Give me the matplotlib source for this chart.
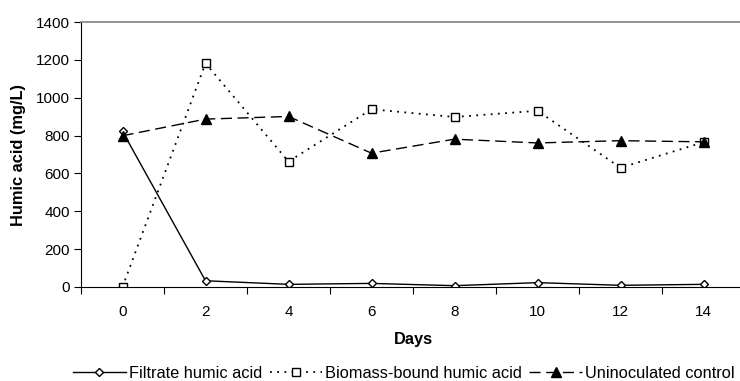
import matplotlib
matplotlib.use("Agg")
import matplotlib.pyplot as plt
import numpy as np

plt.rcParams['font.family'] = ['Liberation Sans', 'DejaVu Sans']

days = ["0", "2", "4", "6", "8", "10", "12", "14"]
filtrate = [822, 33, 14, 19, 7, 23, 9, 14]
biomass = [0, 1182, 663, 939, 898, 931, 630, 765]
control = [799, 887, 901, 707, 781, 761, 773, 767]
yticks = [0, 200, 400, 600, 800, 1000, 1200, 1400]

W, H = 740, 381
FS = 11
LFS = 11.8
fig = plt.figure(figsize=(W/100, H/100), dpi=100)
left, right, top, bottom = 81, 745, 22, 287
ax = fig.add_axes([left/W, 1 - bottom/H, (right-left)/W, (bottom-top)/H])

x = np.arange(len(days))
ax.plot(x, filtrate, color='black', lw=1.0, ls='-', marker='D', ms=4.5,
        mfc='white', mec='black', mew=1.0, label='Filtrate humic acid')
ax.plot(x, biomass, color='black', lw=1.3, ls=(0, (1, 3)), marker='s', ms=5.2,
        mfc='white', mec='black', mew=1.0, label='Biomass-bound humic acid')
ax.plot(x, control, color='black', lw=1.0, ls=(0, (8, 4)), marker='^', ms=6.5,
        mfc='black', mec='black', label='Uninoculated control')

ax.set_xlim(-0.5, len(days) - 0.5)
ax.set_ylim(0, 1400)
ax.set_yticks(yticks)
ax.set_yticklabels([str(v) for v in yticks], fontsize=FS)
ax.set_xticks(x)
ax.set_xticklabels(days, fontsize=FS)
ax.set_xticks(np.arange(len(days) + 1) - 0.5, minor=True)
ax.tick_params(axis='x', which='major', length=0, pad=13)
ax.tick_params(axis='x', which='minor', length=5, direction='out', width=0.8)
ax.tick_params(axis='y', length=5, direction='out', width=0.8, pad=3)

ax.spines['right'].set_visible(False)
ax.spines['top'].set_color('#808080')
ax.spines['top'].set_linewidth(1.2)
ax.spines['left'].set_linewidth(0.8)
ax.spines['bottom'].set_linewidth(0.8)

ax.set_xlabel('Days', fontsize=LFS, fontweight='bold', labelpad=9)
ax.set_ylabel('Humic acid (mg/L)', fontsize=LFS, fontweight='bold', labelpad=7)

fig.legend(loc='center', bbox_to_anchor=(404/W, 1 - 373/H), ncol=3, frameon=False,
           fontsize=LFS, handlelength=3.2, handletextpad=0.2, columnspacing=0.45,
           borderaxespad=0)

fig.savefig('out.png', dpi=100)
